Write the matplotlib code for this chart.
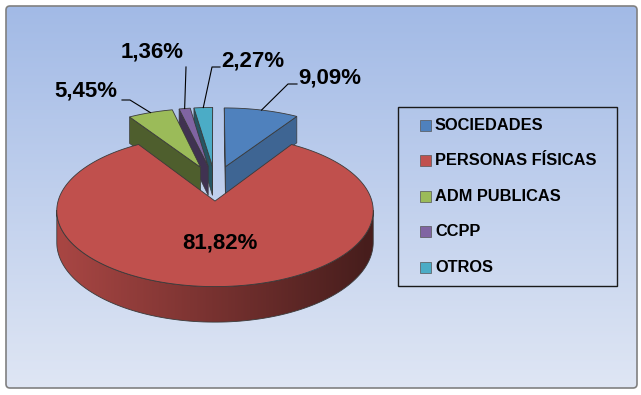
import numpy as np
import matplotlib
matplotlib.use('Agg')
import matplotlib.pyplot as plt
from matplotlib.patches import Polygon, Rectangle, FancyBboxPatch
from matplotlib.colors import to_rgb

# data
categories = ['SOCIEDADES', 'PERSONAS FÍSICAS', 'ADM PUBLICAS', 'CCPP', 'OTROS']
values = [9.09, 81.82, 5.45, 1.36, 2.27]
colors = ['#4F81BD', '#C0504D', '#9BBB59', '#8064A2', '#4BACC6']

# layout (pixels)
W, H_IMG = 641, 395
cx, cy = 215, 183          # pie centre
S = 152                    # radius in px
tilt = 0.46                # vertical squash
D = 8.0                    # perspective distance (radius units)
depth = 30                 # side height in px
explode = 0.25
label_xy = [(330, 78), (220, 243), (86, 91), (152, 52), (253, 61)]
leader_pts = [[(288, 84), (297, 84)], None, [(130, 100), (122, 100)],
              [(186, 67)], [(212, 67), (220, 67)]]
FONT = 'Liberation Sans'

fig = plt.figure(figsize=(W / 100, H_IMG / 100), dpi=100)
ax = fig.add_axes([0, 0, 1, 1])
ax.axis('off')

# background gradient + border
frame = FancyBboxPatch((6, 6), 631, 382, boxstyle='round,pad=0,rounding_size=4',
                       facecolor='none', edgecolor='#808080', lw=1.2, zorder=50)
ax.add_patch(frame)
top_c = np.array(to_rgb('#A2BAE6'))
bot_c = np.array(to_rgb('#DFE6F4'))
g = np.linspace(0, 1, 256)[:, None, None]
grad = np.repeat(top_c * (1 - g) + bot_c * g, 2, axis=1)
im = ax.imshow(grad, extent=(6, 637, 388, 6), aspect='auto', zorder=0)
im.set_clip_path(frame)


def proj(u, v, bottom=False):
    k = D / (D + v)
    x = cx + S * u * k
    y = cy - tilt * S * v * k + (depth * k if bottom else 0)
    return (x, y)


def area(pts):
    s = 0
    for i in range(len(pts)):
        x1, y1 = pts[i]
        x2, y2 = pts[(i + 1) % len(pts)]
        s += x1 * y2 - x2 * y1
    return s


def shade(c, f):
    return tuple(np.clip(np.array(to_rgb(c)) * f, 0, 1))


total = sum(values)
starts = np.cumsum([0] + values[:-1]) / total * 360
spans = np.array(values) / total * 360

slices = []
for i in range(len(values)):
    a0, a1 = starts[i], starts[i] + spans[i]
    mid = np.radians((a0 + a1) / 2)
    ou, ov = explode * np.sin(mid), explode * np.cos(mid)
    slices.append((i, a0, a1, ou, ov, ov + 0.6 * np.cos(mid)))

# painter's order: back to front
slices.sort(key=lambda s: -s[5])
edge = '#3a3a3a'

for order, (i, a0, a1, ou, ov, _) in enumerate(slices):
    col = colors[i]
    z = 10 + order
    n = max(3, int((a1 - a0) / 1.5) + 2)
    th = np.radians(np.linspace(a0, a1, n))
    O = [proj(ou + np.sin(t), ov + np.cos(t)) for t in th]
    Ob = [proj(ou + np.sin(t), ov + np.cos(t), True) for t in th]
    C = proj(ou, ov)
    Cb = proj(ou, ov, True)

    # radial walls
    w0 = [C, O[0], Ob[0], Cb]
    if area(w0) < 0:
        ax.add_patch(Polygon(w0, closed=True, fc=shade(col, 0.5), ec=edge, lw=0.5, zorder=z))
    w1 = [Cb, Ob[-1], O[-1], C]
    if area(w1) < 0:
        ax.add_patch(Polygon(w1, closed=True, fc=shade(col, 0.78), ec=edge, lw=0.5, zorder=z))

    # outer wall, shaded left (light) to right (dark)
    vis = [j for j in range(n - 1) if area([O[j], O[j + 1], Ob[j + 1], Ob[j]]) < 0]
    if vis:
        j0, j1 = vis[0], vis[-1] + 2
        wall = O[j0:j1] + Ob[j0:j1][::-1]
        wp = Polygon(wall, closed=True, fc='none', ec=edge, lw=0.6, zorder=z + 0.1)
        ax.add_patch(wp)
        xs = [p[0] for p in wall]
        ys = [p[1] for p in wall]
        gx = np.linspace(min(xs), max(xs), 300)
        f = 0.62 - 0.25 * np.clip((gx - cx) / S, -1, 1)
        strip = np.array([shade(col, ff) for ff in f])[None, :, :]
        wi = ax.imshow(strip, extent=(min(xs), max(xs), max(ys), min(ys)),
                       aspect='auto', zorder=z, interpolation='bilinear')
        wi.set_clip_path(wp)

    # top face
    ax.add_patch(Polygon([C] + O, closed=True, fc=col, ec=edge, lw=0.6, zorder=z + 0.5))

    # labels
    pct = f'{values[i]:.2f}%'.replace('.', ',')
    lx, ly = label_xy[i]
    ax.text(lx, ly, pct, ha='center', va='center', fontsize=16, fontweight='bold',
            family=FONT, color='black', zorder=60)
    if leader_pts[i] is not None:
        tm = np.radians((a0 + a1) / 2)
        p = proj(ou + np.sin(tm), ov + np.cos(tm))
        pts = [p] + leader_pts[i]
        ax.plot([q[0] for q in pts], [q[1] for q in pts], color='black', lw=0.8, zorder=60)

# legend
ax.add_patch(Rectangle((398, 107), 219, 179, fc='none', ec='#1a1a1a', lw=1.0, zorder=40))
for k, (name, col) in enumerate(zip(categories, colors)):
    yy = 125 + k * 35.6
    ax.add_patch(Rectangle((420, yy - 5.5), 11, 11, fc=col, ec='#555555', lw=0.5, zorder=41))
    ax.text(435, yy, name, ha='left', va='center', fontsize=11.8, fontweight='bold',
            family=FONT, color='black', zorder=41)

ax.set_xlim(0, W)
ax.set_ylim(H_IMG, 0)
fig.savefig('out.png', dpi=100, facecolor='white')
